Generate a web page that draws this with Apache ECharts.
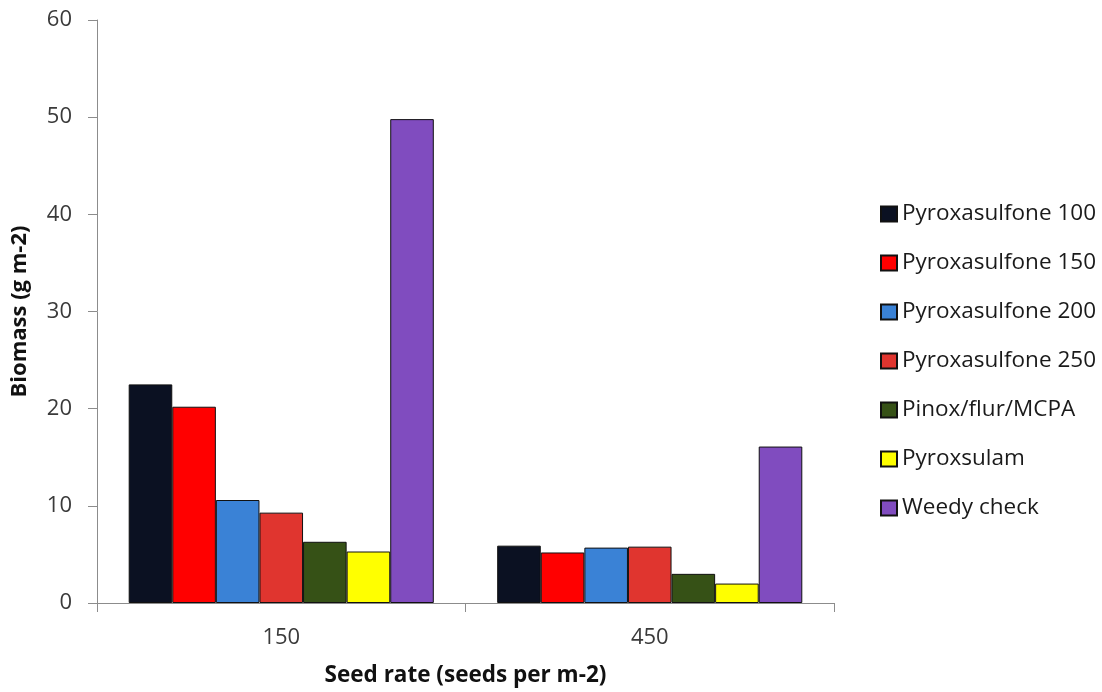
<!DOCTYPE html>
<html>
<head>
<meta charset="utf-8">
<script src="https://cdn.jsdelivr.net/npm/echarts@6/dist/echarts.min.js"></script>
<style>html,body{margin:0;padding:0;background:#fff}#c{width:1102px;height:692px}</style>
</head>
<body>
<div id="c"></div>
<script>
const categories = ['150', '450'];
const seriesNames = ['Pyroxasulfone 100', 'Pyroxasulfone 150', 'Pyroxasulfone 200', 'Pyroxasulfone 250', 'Pinox/flur/MCPA', 'Pyroxsulam', 'Weedy check'];
const pyro100 = [22.5, 5.9];
const pyro150 = [20.2, 5.2];
const pyro200 = [10.6, 5.7];
const pyro250 = [9.3, 5.8];
const pinox = [6.3, 3.0];
const pyroxsulam = [5.3, 2.0];
const weedy = [49.8, 16.1];
const yTicks = [0, 10, 20, 30, 40, 50, 60];
const colors = ['#0b1122', '#ff0000', '#3a82d6', '#e0352f', '#365116', '#ffff00', '#804cbf'];

const values = [pyro100, pyro150, pyro200, pyro250, pinox, pyroxsulam, weedy];
const font = 'Open Sans';
const chart = echarts.init(document.getElementById('c'));
chart.setOption({
  animation: false,
  backgroundColor: '#fff',
  grid: { left: 97, right: 268, top: 20, bottom: 89, containLabel: false, outerBoundsMode: 'none' },
  legend: {
    orient: 'vertical', left: 875, top: 197,
    itemWidth: 16, itemHeight: 15, itemGap: 25,
    icon: 'rect',
    textStyle: { fontFamily: font, fontSize: 22.5, lineHeight: 24, color: '#1a1a1a' },
    data: seriesNames
  },
  xAxis: {
    type: 'category', data: categories,
    name: 'Seed rate (seeds per m-2)', nameLocation: 'middle', nameGap: 61,
    nameTextStyle: { fontFamily: font, fontSize: 22.5, fontWeight: 'bold', color: '#111' },
    axisLine: { lineStyle: { color: '#8c8c8c', width: 1 } },
    axisTick: { show: true, length: 9, lineStyle: { color: '#8c8c8c' } },
    axisLabel: { fontFamily: font, fontSize: 22, color: '#3a3a3a', margin: 24 }
  },
  yAxis: {
    type: 'value', min: 0, max: 60, interval: 10,
    name: 'Biomass (g m-2)', nameLocation: 'middle', nameGap: 66, nameRotate: 90,
    nameTextStyle: { fontFamily: font, fontSize: 22, fontWeight: 'bold', color: '#111' },
    axisLine: { show: true, lineStyle: { color: '#8c8c8c', width: 1 } },
    axisTick: { show: true, length: 9, lineStyle: { color: '#8c8c8c' } },
    splitLine: { show: false },
    axisLabel: { fontFamily: font, fontSize: 22, color: '#3a3a3a', margin: 25,
      formatter: v => yTicks.includes(v) ? String(v) : '' }
  },
  series: seriesNames.map((n, i) => ({
    name: n, type: 'bar', data: values[i],
    barGap: '0%', barCategoryGap: '17.2%',
    itemStyle: { color: colors[i], borderColor: '#111', borderWidth: 1 }
  }))
});
</script>
</body>
</html>
